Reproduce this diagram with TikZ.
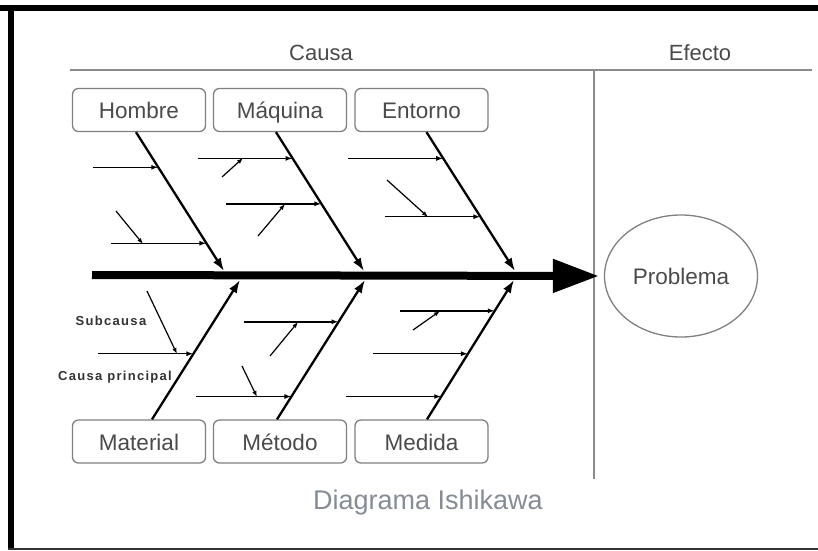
\documentclass[tikz,border=0pt]{standalone}
\usepackage{fontspec}
\setmainfont{Liberation Sans}
\newfontfamily\spacedfont[LetterSpace=10]{Liberation Sans}
\usetikzlibrary{arrows.meta, positioning, calc, shapes.geometric}
\definecolor{boxgray}{HTML}{808080}
\definecolor{rulegray}{HTML}{8C8C8C}
\definecolor{labelgray}{HTML}{4A4A4A}
\definecolor{notegray}{HTML}{333333}
\definecolor{captiongray}{HTML}{858C94}
\tikzset{
  causebox/.style = {draw=boxgray, line width=1.3pt, rounded corners=6pt,
                     minimum width=133pt, minimum height=43pt, inner sep=0pt,
                     text height=19pt, text depth=2pt,
                     text=labelgray, font=\fontsize{22.5}{26}\selectfont},
  header/.style   = {text=labelgray, font=\fontsize{22}{26}\selectfont},
  effect/.style   = {draw=boxgray, line width=1.3pt, ellipse, inner sep=0pt,
                     minimum width=153pt, minimum height=122pt,
                     text=labelgray, font=\fontsize{22.5}{26}\selectfont},
  note/.style     = {text=notegray, inner sep=0pt,
                     font=\spacedfont\bfseries\fontsize{13}{15}\selectfont},
  rule/.style     = {draw=rulegray, line width=2.4pt},
  spine/.style    = {-{Triangle[length=46pt,width=32pt]}, line width=8pt},
  bone/.style     = {-{Latex[length=13pt,width=9pt]}, line width=2.3pt},
  sub/.style      = {-{Latex[length=7pt,width=5pt]}, line width=1.4pt},
  subsub/.style   = {-{Latex[length=6pt,width=4.5pt]}, line width=1.2pt},
}

\begin{document}
\begin{tikzpicture}[x=1pt, y=-1pt]
    \useasboundingbox (0,0) rectangle (818,550);
    % --- frame --------------------------------------------------------------
    \fill[black] (0,5) rectangle (818,11);
    \fill[black] (8,5) rectangle (14,550);
    \fill[black!80] (8,548) rectangle (818,550);

    % --- headers ------------------------------------------------------------
    \node[header] (causa) at (321,53) {Causa};
    \node[header] (efecto) at (700,53) {Efecto};
    \coordinate (rl) at (70,70);
    \coordinate (rr) at (812,70);
    \coordinate (vt) at (594,70);
    \coordinate (vb) at (594,479);
    \draw[rule] (rl) -- (rr);
    \draw[rule, line width=2pt] (vt) -- (vb);

    % --- cause boxes --------------------------------------------------------
    \node[causebox] (hom) at (139,110) {Hombre};
    \node[causebox] (maq) at (280,110) {Máquina};
    \node[causebox] (ent) at (421.5,110) {Entorno};
    \node[causebox] (mat) at (139,441.5) {Material};
    \node[causebox] (met) at (280,441.5) {Método};
    \node[causebox] (med) at (421.5,441.5) {Medida};

    % --- effect -------------------------------------------------------------
    \node[effect] (prob) at (681,276) {Problema};
    \coordinate (tail) at (92,275);
    \draw[spine] (tail) -- ([xshift=-5pt]prob.west);

    % --- main bones ---------------------------------------------------------
    \coordinate (hs) at ([xshift=-3pt]hom.south);
    \coordinate (ms) at ([xshift=-4pt]maq.south);
    \coordinate (es) at ([xshift=5pt]ent.south);
    \coordinate (mats) at ([xshift=13pt]mat.north);
    \coordinate (mets) at ([xshift=-3pt]met.north);
    \coordinate (meds) at ([xshift=5.5pt]med.north);
    \coordinate (jh) at (224,271);
    \coordinate (jm) at (364,271);
    \coordinate (je) at (515,271);
    \coordinate (jmat) at (240,280);
    \coordinate (jmet) at (365,280);
    \coordinate (jmed) at (514,280);
    \draw[bone] (hs) -- (jh);
    \draw[bone] (ms) -- (jm);
    \draw[bone] (es) -- (je);
    \draw[bone] (mats) -- (jmat);
    \draw[bone] (mets) -- (jmet);
    \draw[bone] (meds) -- (jmed);

    % --- sub causes ---------------------------------------------------------
    \coordinate (h1) at ($(hs)!0.253!(jh)$);
    \coordinate (h2) at ($(hs)!0.80!(jh)$);
    \coordinate (m1) at ($(ms)!0.189!(jm)$);
    \coordinate (m2) at ($(ms)!0.516!(jm)$);
    \coordinate (e1) at ($(es)!0.189!(je)$);
    \coordinate (e2) at ($(es)!0.609!(je)$);
    \coordinate (mt1) at ($(mats)!0.471!(jmat)$);
    \coordinate (me1) at ($(mets)!0.70!(jmet)$);
    \coordinate (me2) at ($(mets)!0.164!(jmet)$);
    \coordinate (md1) at ($(meds)!0.779!(jmed)$);
    \coordinate (md2) at ($(meds)!0.471!(jmed)$);
    \coordinate (md3) at ($(meds)!0.164!(jmed)$);
    \draw[sub] ([xshift=-65pt]h1) -- (h1);
    \foreach \c in {h2, m1, m2, e1, e2, mt1, me1, me2, md1, md2, md3}
      \draw[sub] ([xshift=-95pt]\c) -- (\c);

    % --- sub-sub causes -----------------------------------------------------
    \coordinate (h2a) at (143,244);
    \coordinate (m1a) at (243,158);
    \coordinate (m2a) at (285,204);
    \coordinate (e2a) at (428,217);
    \coordinate (mt1a) at (177,354);
    \coordinate (me1a) at (298,322);
    \coordinate (me2a) at (257,397);
    \coordinate (md1a) at (440,311);
    \draw[subsub] ([shift={(-27,-33)}]h2a) -- (h2a);
    \draw[subsub] ([shift={(-21,19)}]m1a) -- (m1a);
    \draw[subsub] ([shift={(-27,32)}]m2a) -- (m2a);
    \draw[subsub] ([shift={(-41,-37)}]e2a) -- (e2a);
    \draw[subsub] ([shift={(-30,-63)}]mt1a) -- (mt1a);
    \draw[subsub] ([shift={(-28,34)}]me1a) -- (me1a);
    \draw[subsub] ([shift={(-15,-31)}]me2a) -- (me2a);
    \draw[subsub] ([shift={(-27,19)}]md1a) -- (md1a);

    % --- legend and caption -------------------------------------------------
    \node[note] (subcausa) at (111,321) {Subcausa};
    \node[note] (causap) at (115,377) {Causa principal};
    \node[text=captiongray, font=\fontsize{27}{30}\selectfont] (caption)
      at (428,503) {Diagrama Ishikawa};
\end{tikzpicture}
\end{document}
